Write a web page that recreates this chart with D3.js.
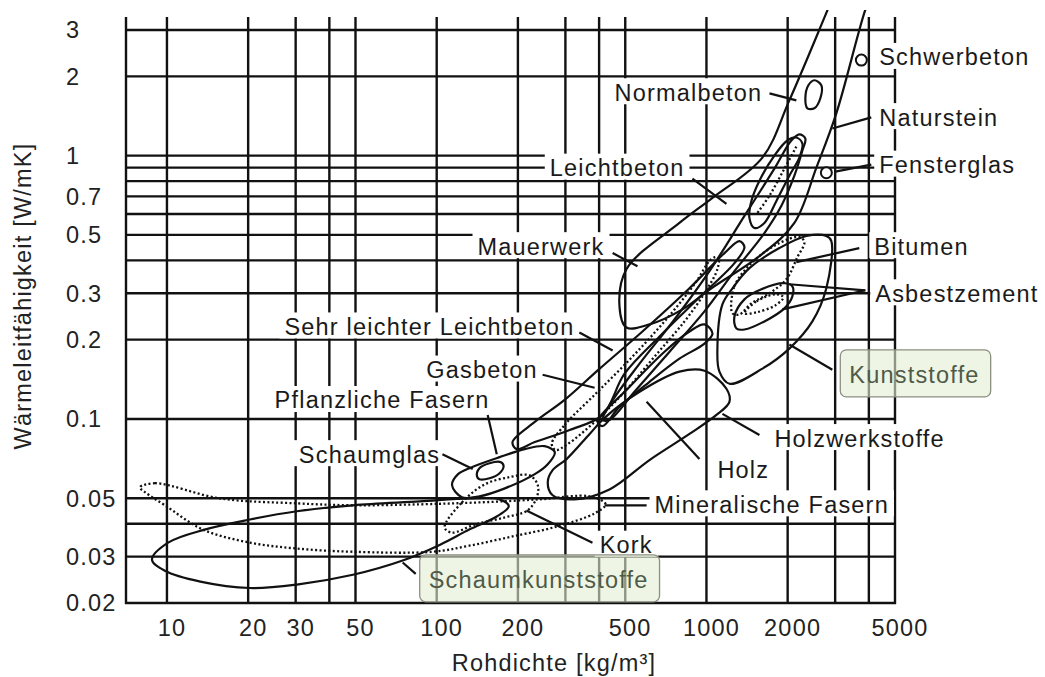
<!DOCTYPE html>
<html><head><meta charset="utf-8">
<script src="https://cdn.jsdelivr.net/npm/d3@7"></script>
<style>
html,body{margin:0;padding:0;background:#fff;}
svg{display:block;}
text{font-family:"Liberation Sans",Arial,Helvetica,sans-serif;}
</style></head><body>
<svg id="chart" width="1045" height="677"></svg>
<script>
// ---- axis ticks and grid ----
const xGrid = [10,20,30,40,50,100,200,300,400,500,1000,2000,3000,4000,5000];
const xTickLabels = [10,20,30,50,100,200,500,1000,2000,5000];
const yGrid = [0.02,0.03,0.04,0.05,0.1,0.2,0.3,0.4,0.5,0.6,0.7,0.8,0.9,1,2,3];
const yTickLabels = ["3","2","1","0.7","0.5","0.3","0.2","0.1","0.05","0.03","0.02"];

// ---- material regions: [Rohdichte kg/m3, Wärmeleitfähigkeit W/mK] ----
const schaumkunststoffe = [[8.80,0.0292],[10.1,0.0339],[13.8,0.0380],[20.3,0.0415],[30.3,0.0446],[48.9,0.0470],[86.5,0.0486],[132,0.0499],[171,0.0495],[185,0.0466],[167,0.0426],[132,0.0380],[103,0.0333],[74.8,0.0290],[48.9,0.0256],[30.3,0.0235],[20.3,0.0228],[13.3,0.0241],[9.83,0.0265]];
const mineralischeFasern = [[7.94,0.0550],[9.03,0.0570],[15.7,0.0499],[30.3,0.0478],[48.9,0.0470],[86.5,0.0474],[144,0.0482],[241,0.0495],[369,0.0508],[423,0.0474],[385,0.0438],[278,0.0390],[191,0.0358],[132,0.0330],[96.6,0.0313],[48.9,0.0313],[30.3,0.0322],[20.3,0.0339],[13.6,0.0380],[9.83,0.0470],[8.29,0.0527]];
const kork = [[107,0.0387],[124,0.0482],[151,0.0565],[186,0.0601],[221,0.0611],[237,0.0560],[235,0.0504],[217,0.0449],[179,0.0423],[138,0.0397],[114,0.0370]];
const pflanzlicheFasern = [[114,0.0560],[120,0.0617],[135,0.0656],[171,0.0716],[212,0.0768],[251,0.0788],[274,0.0748],[258,0.0673],[231,0.0617],[179,0.0545],[144,0.0508],[124,0.0504]];
const schaumglas = [[141,0.0606],[144,0.0650],[157,0.0679],[173,0.0685],[177,0.0662],[171,0.0622],[157,0.0595],[144,0.0590]];
const holzwerkstoffe = [[258,0.0575],[269,0.0639],[303,0.0704],[369,0.0877],[419,0.1009],[565,0.1268],[794,0.1512],[983,0.1525],[1186,0.1302],[1217,0.1161],[1089,0.1036],[865,0.0877],[615,0.0698],[437,0.0540],[324,0.0495],[269,0.0513]];
const holz = [[395,0.0974],[519,0.1325],[699,0.180],[865,0.2148],[983,0.2285],[1053,0.2111],[983,0.1933],[794,0.1694],[615,0.1384],[476,0.1111],[412,0.094]];
const gasbeton = [[267,0.0803],[298,0.0949],[385,0.1235],[519,0.168],[699,0.2346],[903,0.3247],[1043,0.4045],[1108,0.4117],[1098,0.3704],[983,0.300],[829,0.2346],[642,0.1725],[497,0.1268],[385,0.0974],[306,0.0803],[276,0.0762]];
const sehrLeichterLeichtbeton = [[191,0.0817],[231,0.0974],[298,0.1181],[402,0.1552],[579,0.2148],[865,0.3134],[1166,0.4264],[1325,0.4737],[1383,0.4494],[1270,0.3904],[942,0.2896],[670,0.2056],[497,0.1485],[412,0.1036],[311,0.0908],[231,0.0817],[198,0.0768]];
const leichtbeton = [[412,0.0991],[445,0.1161],[565,0.1622],[761,0.2386],[1026,0.364],[1383,0.590],[1786,0.892],[2064,1.141],[2210,1.203],[2326,1.161],[2268,1.045],[2118,0.839],[1896,0.645],[1640,0.508],[1270,0.364],[983,0.256],[730,0.180],[541,0.1268],[437,0.0991]];
const leichtbetonKern = [[2154,1.171],[2268,1.111],[2210,0.9826],[2029,0.839],[1817,0.673],[1640,0.555],[1506,0.531],[1443,0.580],[1468,0.673],[1572,0.803],[1786,1.0],[1995,1.141]];
const leichtbetonKernLinie = [[2154,1.082],[1945,0.892],[1712,0.704],[1545,0.606]];
const mauerwerk = [[476,0.2676],[505,0.3704],[794,0.555],[1053,0.6914],[1612,0.9826],[2029,1.621],[2783,3.483],[3244,5.08],[4373,5.08],[3847,3.483],[3030,1.446],[2556,0.90],[2118,0.555],[1572,0.415],[1043,0.3134],[815,0.2606],[615,0.2285],[505,0.2225]];
const kunststoffe = [[2904,0.4737],[2783,0.3134],[2470,0.2346],[2029,0.185],[1612,0.1552],[1217,0.136],[1117,0.1512],[1098,0.185],[1146,0.2723],[1249,0.3134],[1443,0.3737],[1864,0.4455],[2346,0.4951],[2783,0.4951]];
const bitumen = [[1249,0.2517],[1270,0.319],[1468,0.3904],[1832,0.4614],[2210,0.4907],[2307,0.4695],[2173,0.4117],[1978,0.3393],[1712,0.300],[1468,0.2748],[1325,0.2494]];
const asbestzement = [[1292,0.2206],[1270,0.245],[1383,0.2845],[1598,0.3107],[1945,0.3276],[2082,0.319],[2082,0.2921],[1945,0.263],[1640,0.2346],[1383,0.2186]];
const asbestzementKern = [[1383,0.2517],[1532,0.2796],[1817,0.2974],[1928,0.2896],[1801,0.27],[1532,0.2539]];
const normalbeton = [[2512,1.933],[2666,1.85],[2644,1.651],[2512,1.512],[2367,1.512],[2326,1.651],[2387,1.85]];
const schwerbeton = [3752, 2.305];
const fensterglas = [2783, 0.861];

// ---- label anchors: text, Rohdichte, λ, anchor ----
const labelTexts   = ["Schwerbeton","Normalbeton","Naturstein","Leichtbeton","Fensterglas","Mauerwerk","Bitumen","Asbestzement","Sehr leichter Leichtbeton","Gasbeton","Pflanzliche Fasern","Kunststoffe","Holzwerkstoffe","Holz","Schaumglas","Mineralische Fasern","Kork","Schaumkunststoffe"];
const labelDensity = [4370,1610,4370,829,4370,419,4190,4225,324,237,157,3385,1786,1098,103,642,402,93.4];
const labelLambda  = [2.37,1.74,1.40,0.90,0.924,0.453,0.453,0.30,0.2245,0.154,0.118,0.147,0.0846,0.0645,0.0735,0.0474,0.0333,0.0245];
const labelAnchor  = ["start","end","start","end","start","end","start","start","end","end","end","start","start","start","end","start","start","start"];
const boxedLabels  = ["Kunststoffe","Schaumkunststoffe"];

// ---- leader lines from labels to regions ----
const leaders = [
  [[1712,1.724],[2154,1.621]],
  [[4084,1.397],[2929,1.268]],
  [[4084,0.924],[3005,0.869]],
  [[887,0.817],[1186,0.656]],
  [[449,0.4264],[555,0.3803]],
  [[3687,0.4455],[2154,0.3939]],
  [[3881,0.308],[2029,0.3247]],
  [[3881,0.308],[1912,0.2606]],
  [[2029,0.1916],[2929,0.1538]],
  [[1146,0.1045],[1572,0.0869]],
  [[600,0.1161],[942,0.0704]],
  [[419,0.0470],[600,0.0470]],
  [[215,0.0449],[378,0.0339]],
  [[74.8,0.0285],[83.6,0.0258]],
  [[105,0.0735],[136,0.0645]],
  [[154.5,0.1036],[167,0.0735]],
  [[247,0.1472],[385,0.1313]],
  [[338,0.2129],[449,0.1818]]
];

// ---- drawing ----
const ink = "#111";
const FS = 23.5, LS = 1.2;
const x = d3.scaleLog().domain([7.05, 5000]).range([126, 895]);
const y = d3.scaleLog().domain([0.02, 3.36]).range([603, 17]);
const svg = d3.select("#chart");

const gGrid = svg.append("g");
const gBg = svg.append("g");
const gShapes = svg.append("g");
const gLead = svg.append("g");
const gBox = svg.append("g");
const gText = svg.append("g");

// grid
gGrid.selectAll("line.v").data([x.domain()[0], ...xGrid]).join("line")
  .attr("x1", d => x(d)).attr("x2", d => x(d))
  .attr("y1", y(y.domain()[0]) + 1).attr("y2", y(y.domain()[1]))
  .attr("stroke", ink).attr("stroke-width", 2.4);
gGrid.selectAll("line.h").data(yGrid).join("line")
  .attr("x1", x(x.domain()[0]) - 1).attr("x2", x(x.domain()[1]) + 1)
  .attr("y1", d => y(d)).attr("y2", d => y(d))
  .attr("stroke", ink).attr("stroke-width", 2.4);

// clip for regions
svg.append("defs").append("clipPath").attr("id", "plotClip")
  .append("rect").attr("x", x(x.domain()[0])).attr("y", 10)
  .attr("width", x(x.domain()[1]) - x(x.domain()[0])).attr("height", y(y.domain()[0]) - 10);
gShapes.attr("clip-path", "url(#plotClip)");

const closed = d3.line().x(d => x(d[0])).y(d => y(d[1])).curve(d3.curveCatmullRomClosed.alpha(0.5));
const open = d3.line().x(d => x(d[0])).y(d => y(d[1])).curve(d3.curveCatmullRom.alpha(0.5));

const regions = [
  {pts: schaumkunststoffe, dotted: false},
  {pts: mineralischeFasern, dotted: true},
  {pts: kork, dotted: true},
  {pts: pflanzlicheFasern, dotted: false},
  {pts: schaumglas, dotted: false},
  {pts: holzwerkstoffe, dotted: false},
  {pts: holz, dotted: false},
  {pts: gasbeton, dotted: true},
  {pts: sehrLeichterLeichtbeton, dotted: false},
  {pts: leichtbeton, dotted: false},
  {pts: leichtbetonKern, dotted: false},
  {pts: mauerwerk, dotted: false},
  {pts: kunststoffe, dotted: false},
  {pts: bitumen, dotted: true},
  {pts: asbestzement, dotted: false},
  {pts: asbestzementKern, dotted: true},
  {pts: normalbeton, dotted: false}
];
gShapes.selectAll("path.r").data(regions).join("path")
  .attr("d", d => closed(d.pts))
  .attr("fill", "none").attr("stroke", ink)
  .attr("stroke-width", d => d.dotted ? 2.3 : 2.2)
  .attr("stroke-dasharray", d => d.dotted ? "2,2.4" : null);
gShapes.append("path").attr("d", open(leichtbetonKernLinie))
  .attr("fill", "none").attr("stroke", ink).attr("stroke-width", 2.3).attr("stroke-dasharray", "2,2.4");

gShapes.selectAll("circle").data([schwerbeton, fensterglas]).join("circle")
  .attr("cx", d => x(d[0])).attr("cy", d => y(d[1])).attr("r", 5.5)
  .attr("fill", "#fff").attr("stroke", ink).attr("stroke-width", 2);

// leader lines
gLead.selectAll("line").data(leaders).join("line")
  .attr("x1", d => x(d[0][0])).attr("y1", d => y(d[0][1]))
  .attr("x2", d => x(d[1][0])).attr("y2", d => y(d[1][1]))
  .attr("stroke", ink).attr("stroke-width", 2.2);

// labels with white backgrounds (or green boxes)
labelTexts.forEach((t, i) => {
  const cx = x(labelDensity[i]), cy = y(labelLambda[i]);
  const boxed = boxedLabels.includes(t);
  const txt = gText.append("text")
    .attr("x", cx).attr("y", cy).attr("dy", "0.36em")
    .attr("text-anchor", labelAnchor[i])
    .attr("font-size", FS).attr("letter-spacing", LS)
    .attr("fill", boxed ? "#4f5a48" : "#1a1a1a")
    .text(t);
  const bb = txt.node().getBBox();
  if (boxed) {
    gBox.append("rect")
      .attr("x", bb.x - 9).attr("y", cy - 25)
      .attr("width", bb.width + 20).attr("height", 47)
      .attr("rx", 6).attr("ry", 6)
      .attr("fill", "#e3efd2").attr("fill-opacity", 0.6)
      .attr("stroke", "#8c8f82").attr("stroke-width", 1.3);
  } else {
    gBg.append("rect")
      .attr("x", bb.x - 5).attr("y", cy - 14)
      .attr("width", bb.width + 10).attr("height", 26)
      .attr("fill", "#fff");
  }
});

// axis tick labels
gText.selectAll("text.yt").data(yTickLabels).join("text")
  .attr("x", 66).attr("y", d => y(+d)).attr("dy", "0.36em")
  .attr("font-size", FS).attr("letter-spacing", LS).attr("fill", "#222")
  .text(d => d);
gText.selectAll("text.xt").data(xTickLabels).join("text")
  .attr("x", d => x(d) + 5).attr("y", 636)
  .attr("text-anchor", "middle")
  .attr("font-size", FS).attr("letter-spacing", LS).attr("fill", "#222")
  .text(d => d);

// axis titles
gText.append("text")
  .attr("x", 554).attr("y", 671).attr("text-anchor", "middle")
  .attr("font-size", FS).attr("letter-spacing", LS).attr("fill", "#222")
  .text("Rohdichte [kg/m³]");
gText.append("text")
  .attr("transform", "translate(31,296) rotate(-90)").attr("text-anchor", "middle")
  .attr("font-size", FS).attr("letter-spacing", LS).attr("fill", "#222")
  .text("Wärmeleitfähigkeit [W/mK]");
</script>
</body></html>
